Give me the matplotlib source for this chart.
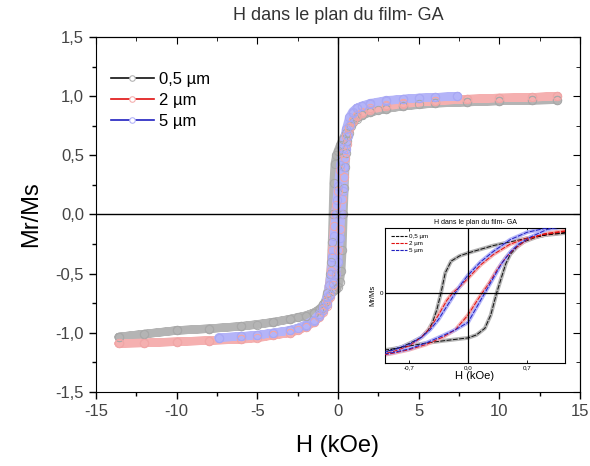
import numpy as np
import matplotlib
matplotlib.use("Agg")
import matplotlib.pyplot as plt
from matplotlib.ticker import MultipleLocator, FuncFormatter
from matplotlib.lines import Line2D

plt.rcParams['font.family'] = ['Liberation Sans', 'DejaVu Sans']

# hysteresis loops, H in kOe, M normalised (Mr/Ms)
# 0,5 um film: descending branch (+H -> -H) then ascending branch (-H -> +H)
h05_dn = [13.6, 12, 10, 8, 6, 4, 3, 2, 1.5, 1.15, 0.9, 0.7, 0.5, 0.3, 0.15, 0,
          -0.1, -0.2, -0.27, -0.32, -0.37, -0.42, -0.47, -0.55, -0.65, -0.8,
          -0.96, -1.2, -1.5, -2, -2.5, -3, -4, -5, -6, -8, -10, -12, -13.6]
m05_dn = [0.97, 0.965, 0.96, 0.95, 0.94, 0.915, 0.895, 0.865, 0.84, 0.81, 0.78,
          0.74, 0.69, 0.64, 0.59, 0.54, 0.5, 0.43, 0.27, 0.0, -0.23, -0.4, -0.5,
          -0.6, -0.66, -0.74, -0.79, -0.81, -0.83, -0.855, -0.87, -0.885, -0.91,
          -0.93, -0.945, -0.965, -0.98, -1.01, -1.035]
h05_up = [-13.6, -12, -10, -8, -6, -4, -3, -2, -1.5, -1.15, -0.9, -0.7, -0.5,
          -0.3, -0.15, 0, 0.1, 0.2, 0.27, 0.34, 0.4, 0.45, 0.5, 0.58, 0.66, 0.8,
          0.96, 1.2, 1.5, 2, 2.5, 3, 4, 5, 6, 8, 10, 12, 13.6]
m05_up = [-1.035, -1.01, -0.98, -0.965, -0.945, -0.91, -0.885, -0.855, -0.83,
          -0.8, -0.76, -0.72, -0.68, -0.65, -0.63, -0.61, -0.57, -0.48, -0.3, 0.0,
          0.22, 0.4, 0.52, 0.62, 0.69, 0.75, 0.8, 0.82, 0.84, 0.865, 0.88, 0.895,
          0.915, 0.93, 0.94, 0.95, 0.96, 0.965, 0.97]

# 2 um film
h2_dn = [13.6, 12, 10, 8, 6, 4, 3, 2, 1.5, 1.15, 0.9, 0.7, 0.5, 0.3, 0.15, 0,
         -0.1, -0.18, -0.25, -0.35, -0.45, -0.55, -0.7, -0.9, -1.15, -1.5, -2,
         -2.5, -3, -4, -5, -6, -8, -10, -12, -13.6]
m2_dn = [1.0, 0.99, 0.985, 0.975, 0.96, 0.935, 0.915, 0.885, 0.86, 0.83, 0.79,
         0.74, 0.66, 0.52, 0.38, 0.2, 0.08, 0.0, -0.1, -0.3, -0.48, -0.6, -0.72,
         -0.8, -0.86, -0.91, -0.95, -0.98, -1.0, -1.02, -1.045, -1.055, -1.065,
         -1.075, -1.085, -1.09]
h2_up = [-13.6, -12, -10, -8, -6, -4, -3, -2, -1.5, -1.15, -0.9, -0.7, -0.5,
         -0.3, -0.15, 0, 0.1, 0.17, 0.25, 0.35, 0.45, 0.55, 0.7, 0.9, 1.15, 1.5,
         2, 3, 4, 6, 8, 10, 12, 13.6]
m2_up = [-1.09, -1.085, -1.075, -1.065, -1.055, -1.02, -1.0, -0.95, -0.91, -0.87,
         -0.82, -0.77, -0.7, -0.6, -0.5, -0.3, -0.12, 0.0, 0.13, 0.32, 0.48, 0.6,
         0.72, 0.8, 0.84, 0.87, 0.9, 0.925, 0.94, 0.96, 0.975, 0.985, 0.99, 1.0]

# 5 um film
h5_dn = [7.4, 6, 5, 4, 3, 2, 1.5, 1.15, 0.9, 0.7, 0.5, 0.3, 0.15, 0, -0.08,
         -0.15, -0.25, -0.35, -0.45, -0.55, -0.7, -0.9, -1.15, -1.5, -2, -2.5,
         -3, -4, -5, -6, -7.4]
m5_dn = [1.0, 0.99, 0.985, 0.975, 0.96, 0.935, 0.915, 0.9, 0.87, 0.82, 0.72,
         0.56, 0.42, 0.24, 0.12, 0.0, -0.18, -0.36, -0.5, -0.6, -0.7, -0.78,
         -0.84, -0.89, -0.93, -0.96, -0.98, -1.0, -1.02, -1.03, -1.04]
h5_up = [-7.4, -6, -5, -4, -3, -2, -1.5, -1.15, -0.9, -0.7, -0.5, -0.3, -0.15,
         0, 0.1, 0.2, 0.3, 0.4, 0.5, 0.6, 0.75, 0.94, 1.15, 1.5, 2, 3, 4, 5, 6,
         7.4]
m5_up = [-1.04, -1.03, -1.02, -1.0, -0.98, -0.94, -0.9, -0.86, -0.81, -0.76,
         -0.68, -0.58, -0.5, -0.4, -0.2, 0.0, 0.2, 0.4, 0.55, 0.66, 0.76, 0.86,
         0.9, 0.92, 0.94, 0.965, 0.975, 0.985, 0.99, 1.0]

labels = ["0,5 µm", "2 µm", "5 µm"]
loops = [(h05_dn + h05_up, m05_dn + m05_up),
         (h2_dn + h2_up, m2_dn + m2_up),
         (h5_dn + h5_up, m5_dn + m5_up)]
dark = ["#111111", "#e01010", "#2020c0"]
light = ["#b4b4b4", "#f5b0b0", "#b4b4f8"]
edge = ["#a8a8a8", "#f0a6a6", "#a8a8f4"]

comma = FuncFormatter(lambda v, p: ("%.1f" % v).replace(".", ",").replace("-0,0", "0,0"))

fig = plt.figure(figsize=(5.9, 4.66), dpi=100)
ax = fig.add_axes([0.1627, 0.1588, 0.8203, 0.7618])

for (h, m), lc, ec in zip(loops, light, edge):
    ax.plot(h, m, color=lc, lw=6, solid_capstyle="round", zorder=2)
    ax.plot(h, m, ls="none", marker="o", ms=6, mfc="none", mec=ec, mew=0.7,
            zorder=3)

ax.axhline(0, color="black", lw=1, zorder=4)
ax.axvline(0, color="black", lw=1, zorder=4)

ax.set_xlim(-15, 15)
ax.set_ylim(-1.5, 1.5)
ax.xaxis.set_major_locator(MultipleLocator(5))
ax.xaxis.set_minor_locator(MultipleLocator(2.5))
ax.yaxis.set_major_locator(MultipleLocator(0.5))
ax.yaxis.set_minor_locator(MultipleLocator(0.25))
ax.yaxis.set_major_formatter(comma)
ax.xaxis.set_major_formatter(FuncFormatter(lambda v, p: "%d" % v))
ax.tick_params(which="both", direction="out", top=False, right=False,
               labelsize=12, labelcolor="#444444", width=1)
ax.tick_params(which="major", length=5)
ax.tick_params(which="minor", length=3)
ax2 = ax.secondary_xaxis("top")
ax2.xaxis.set_major_locator(MultipleLocator(5))
ax2.xaxis.set_minor_locator(MultipleLocator(2.5))
ax2.tick_params(which="both", direction="in", labeltop=False)
ax2.tick_params(which="major", length=5)
ax2.tick_params(which="minor", length=3)
ay2 = ax.secondary_yaxis("right")
ay2.yaxis.set_major_locator(MultipleLocator(0.5))
ay2.yaxis.set_minor_locator(MultipleLocator(0.25))
ay2.tick_params(which="both", direction="in", labelright=False)
ay2.tick_params(which="major", length=5)
ay2.tick_params(which="minor", length=3)

ax.set_xlabel("H (kOe)", fontsize=17, labelpad=12)
ax.set_ylabel("Mr/Ms", fontsize=17, labelpad=10)
ax.set_title("H dans le plan du film- GA", fontsize=13, color="#333333", pad=12)

handles = [Line2D([], [], color=d, lw=1.2, marker="o", ms=4, mfc="white",
                  mec=l, mew=0.8) for d, l in zip(dark, light)]
ax.legend(handles, labels, loc="upper left", bbox_to_anchor=(0.01, 0.93),
          frameon=False, fontsize=12, handlelength=2.6, handletextpad=0.3,
          labelspacing=0.35, borderaxespad=0.2)

# zoom on the central part of the loops
ins = fig.add_axes([0.6525, 0.221, 0.305, 0.29])
for (h, m), d, lc in zip(loops, dark, light):
    ins.plot(h, m, color=lc, lw=2.8, zorder=2)
    ins.plot(h, m, color=d, lw=0.7, dashes=(5, 1.5), zorder=3)
ins.axhline(0, color="black", lw=0.9, zorder=4)
ins.axvline(0, color="black", lw=0.9, zorder=4)
ins.set_xlim(-0.985, 1.15)
ins.set_ylim(-0.95, 0.88)
ins.set_xticks([-0.7, 0.0, 0.7])
ins.xaxis.set_major_formatter(comma)
ins.set_yticks([0])
ins.set_yticklabels(["0"])
ins.tick_params(labelsize=4.5, length=2, width=0.6, pad=1.5, direction="in",
                top=True)
for s in ins.spines.values():
    s.set_linewidth(0.8)
ins.set_xlabel("H (kOe)", fontsize=8, labelpad=1)
ins.set_ylabel("Mr/Ms", fontsize=5.5, labelpad=2)
ins.set_title("H dans le plan du film- GA", fontsize=5, pad=3)
ins_handles = [Line2D([], [], color=d, lw=0.8, dashes=(3, 1)) for d in dark]
ins.legend(ins_handles, labels, loc="upper left", frameon=False, fontsize=4.5,
           handlelength=2.5, handletextpad=0.3, labelspacing=0.2,
           borderaxespad=0.6)

fig.savefig("out.png", dpi=100)
